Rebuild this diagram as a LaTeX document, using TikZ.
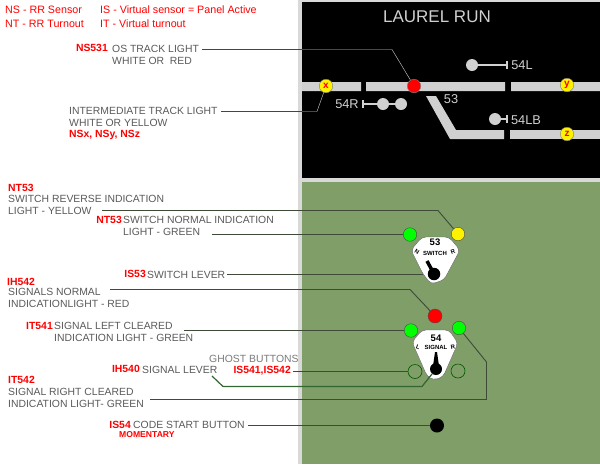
\documentclass[tikz,border=0pt]{standalone}
\usepackage{fontspec}
\setmainfont{Liberation Sans}
\usetikzlibrary{arrows.meta,positioning}
\definecolor{panel}{HTML}{7F9E68}
\definecolor{track}{HTML}{D0D0D0}
\definecolor{ink}{HTML}{5A5A5A}
\definecolor{wire}{HTML}{3F4A38}
\definecolor{lamp}{HTML}{00FF00}
\begin{document}
\begin{tikzpicture}[x=1pt,y=-1pt,
 lbl/.style={inner sep=0pt,anchor=west,text=ink,font=\fontsize{10.4}{10.4}\selectfont},
 tag/.style={inner sep=0pt,anchor=east,text=red,font=\fontsize{10.4}{10.4}\selectfont\bfseries},
 key/.style={inner sep=0pt,anchor=west,text=red,font=\fontsize{10.7}{10.7}\selectfont},
 trk/.style={inner sep=0pt,text=track,font=\fontsize{12.8}{12.8}\selectfont},
 light/.style={circle,draw=black!70,line width=.4pt,minimum size=13.5pt,inner sep=0pt},
 ghost/.style={circle,draw=green!35!black,line width=.6pt,minimum size=14pt,inner sep=0pt},
 sens/.style={circle,draw=black!50,fill=yellow,minimum size=13.5pt,inner sep=0pt,text=red,font=\fontsize{10}{10}\selectfont\bfseries},
 head/.style={circle,fill=track,minimum size=12pt,inner sep=0pt},
 lead/.style={draw=wire,line width=.9pt},
 plate/.style={fill=white,draw=black!60,line width=.4pt,rounded corners=4pt},
 tiny/.style={inner sep=0pt,font=\fontsize{6}{6}\selectfont\bfseries}]
\useasboundingbox (0,0) rectangle (600,464);
\fill[white] (0,0) rectangle (600,464);
\fill[black!15] (298,0) rectangle (600,464);
\fill[black] (302,2) rectangle (600,178);
\fill[panel] (302,182) rectangle (600,464);
% track diagram
\fill[track] (302,82) rectangle (361,91) (366,82) rectangle (505,91) (511,82) rectangle (600,91);
\fill[track] (426,96) -- (436,96) -- (456,130) -- (504,130) -- (504,139) -- (450,139) -- cycle;
\fill[track] (510,130) rectangle (600,139);
\node[inner sep=0pt,text=track,font=\fontsize{17}{17}\selectfont] (title) at (437,17) {LAUREL RUN};
\node[trk] (l54l) at (522,65) {54L};
\node[trk] (l54r) at (347,104) {54R};
\node[trk] (l53) at (451,99) {53};
\node[trk] (l54lb) at (526,120) {54LB};
\node[head] (hl) at (472,65) {};
\node[head] (hr1) at (383,104) {};
\node[head] (hr2) at (401,104) {};
\node[head] (hlb) at (495,119) {};
\coordinate (bl) at (507,65);
\coordinate (br) at (363,104);
\coordinate (blb) at (507,119);
\draw[track,line width=1.5pt] (hl) -- (bl) (hr2) -- (br) (hlb) -- (blb);
\draw[track,line width=1.2pt] (507,61) -- (507,69) (363,100) -- (363,108) (507,115) -- (507,123);
\node[sens] (sx) at (326,86) {x};
\node[light,fill=red,draw=black!50] (os) at (414,86) {};
\node[sens] (sy) at (567,85) {y};
\node[sens] (sz) at (567,134) {z};
% switch and signal plates
\draw[plate] (422,237) -- (449,237) -- (460,250) -- (444,280) -- (431,284) -- (423,274) -- (411,250) -- cycle;
\node[inner sep=0pt,font=\fontsize{9.5}{9.5}\selectfont\bfseries] (sw) at (435,242) {53};
\node[tiny] (swt) at (435,253) {SWITCH};
\node[tiny,rotate=-30] (swn) at (417,252) {N};
\node[tiny,rotate=20] (swr) at (453,252) {R};
\draw[line width=3.5pt] (427,261) -- (433,272);
\node[circle,fill=black,minimum size=12.5pt,inner sep=0pt] (swk) at (434,274) {};
\draw[plate] (422,330) -- (449,330) -- (458,343) -- (443,377) -- (433,380) -- (427,376) -- (412,342) -- cycle;
\node[inner sep=0pt,font=\fontsize{9.5}{9.5}\selectfont\bfseries] (sg) at (436,338) {54};
\node[tiny] (sgt) at (436,347) {SIGNAL};
\node[tiny,rotate=-20] (sgl) at (418,347) {L};
\node[tiny,rotate=10] (sgr) at (453,347) {R};
\fill[black] (435,352) -- (437,352) -- (439,366) -- (433,366) -- cycle;
\node[circle,fill=black,minimum size=12pt,inner sep=0pt] (sgk) at (436,369) {};
% lights
\node[light,fill=lamp] (gn) at (410,234.5) {};
\node[light,fill=yellow] (yr) at (458,234) {};
\node[light,fill=red,minimum size=14pt] (rn) at (435,316) {};
\node[light,fill=lamp] (gl) at (411,330.5) {};
\node[light,fill=lamp] (gr) at (459,328) {};
\node[ghost] (gbl) at (415,371.5) {};
\node[ghost] (gbr) at (458,371) {};
\node[circle,fill=black,minimum size=14pt,inner sep=0pt] (cs) at (437,425.5) {};
% legend
\node[key] (k1) at (5,10) {NS - RR Sensor};
\node[key] (k2) at (5,24) {NT - RR Turnout};
\node[key] (k3) at (100,10) {IS - Virtual sensor = Panel Active};
\node[key] (k4) at (100,24) {IT - Virtual turnout};
% labels
\node[lbl] (t1) at (112,49) {OS TRACK LIGHT};
\node[tag] (n1) at (108,48) {NS531};
\node[lbl] (t1b) at (112,61) {WHITE OR\ \ RED};
\node[lbl] (t2) at (69,111) {INTERMEDIATE TRACK LIGHT};
\node[lbl] (t2b) at (69,123) {WHITE OR YELLOW};
\node[tag,anchor=west] (n2) at (69,135) {NSx, NSy, NSz};
\node[tag,anchor=west] (n3) at (8,188) {NT53};
\node[lbl] (t3) at (8,199) {SWITCH REVERSE INDICATION};
\node[lbl] (t3b) at (8,211) {LIGHT - YELLOW};
\node[lbl] (t4) at (123,220) {SWITCH NORMAL INDICATION};
\node[tag] (n4) at (122,220) {NT53};
\node[lbl] (t4b) at (123,232) {LIGHT - GREEN};
\node[lbl] (t5) at (147,275) {SWITCH LEVER};
\node[tag] (n5) at (146,274) {IS53};
\node[tag,anchor=west] (n6) at (7,282) {IH542};
\node[lbl] (t6) at (8,292) {SIGNALS NORMAL};
\node[lbl] (t6b) at (8,304) {INDICATIONLIGHT - RED};
\node[lbl] (t7) at (54,326) {SIGNAL LEFT CLEARED};
\node[tag] (n7) at (53,326) {IT541};
\node[lbl] (t7b) at (54,338) {INDICATION LIGHT - GREEN};
\node[lbl,text=ink!80] (t8) at (209,359) {GHOST BUTTONS};
\node[tag] (n8) at (291,371) {IS541,IS542};
\node[lbl] (t9) at (142,370) {SIGNAL LEVER};
\node[tag] (n9) at (140,369) {IH540};
\node[tag,anchor=west] (n10) at (8,380) {IT542};
\node[lbl] (t10) at (8,392) {SIGNAL RIGHT CLEARED};
\node[lbl] (t10b) at (8,404) {INDICATION LIGHT- GREEN};
\node[lbl] (t11) at (133,425) {CODE START BUTTON};
\node[tag] (n11) at (131,425) {IS54};
\node[inner sep=0pt,anchor=west,text=red,font=\fontsize{8.6}{8.6}\selectfont\bfseries] (n11b) at (119,435) {MOMENTARY};
% leaders
\coordinate (a1) at (202,49.5);
\coordinate (a2) at (221,111.5);
\coordinate (a3) at (102,210.5);
\coordinate (a4) at (212,234.5);
\coordinate (a5) at (227,274.5);
\coordinate (a6) at (110,289.5);
\coordinate (a7) at (184,330.5);
\coordinate (a8) at (293,371.5);
\coordinate (a9) at (212,376);
\coordinate (a10) at (150,399.5);
\coordinate (a11) at (248,425.5);
\draw[lead] (a1) -- (302,49.5);
\draw[track,line width=.4pt] (302,49.5) -- (392,49.5) -- (os);
\draw[lead] (a2) -- (302,111.5);
\draw[track,line width=.4pt] (302,111.5) -- (317,111.5) -- (sx);
\draw[lead] (a3) -- (438,210.5) -- (yr);
\draw[lead] (a4) -- (gn);
\draw[lead] (a5) -- (423,274.5);
\draw[lead] (a6) -- (410,289.5) -- (rn);
\draw[lead] (a7) -- (gl);
\draw[lead] (a8) -- (gbl);
\draw[lead,draw=green!25!black!80,line width=1.2pt] (a9) -- (223,386.5) -- (422,386.5) -- (sgk);
\draw[lead] (a10) -- (486.5,399.5) -- (486.5,362) -- (gr);
\draw[lead] (a11) -- (cs);
\end{tikzpicture}
\end{document}
